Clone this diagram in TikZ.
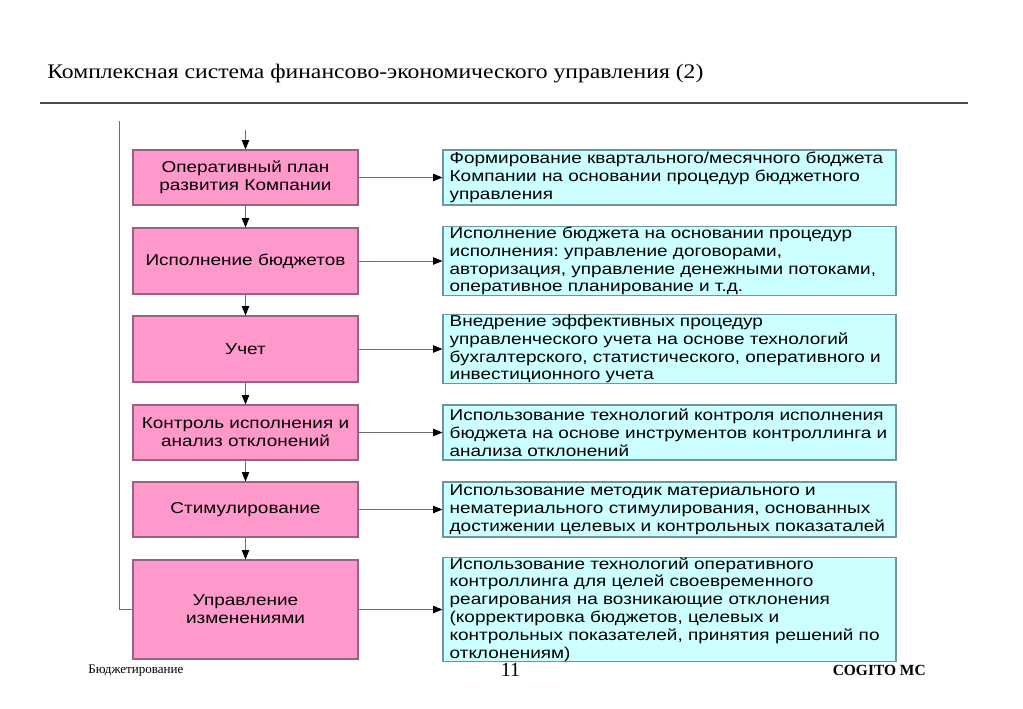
\documentclass[tikz,border=0pt]{standalone}
\usepackage{fontspec}
\usetikzlibrary{arrows.meta}
\frenchspacing
\newfontfamily\arfont{Liberation Sans}[FakeStretch=1.205]
\newfontfamily\titlefont{Liberation Serif}[FakeStretch=1.145]
\newfontfamily\tnrfont{Liberation Serif}
\definecolor{pinkfill}{RGB}{255,153,204}
\definecolor{pinkline}{RGB}{150,100,130}
\definecolor{cyanfill}{RGB}{204,255,255}
\definecolor{cyanline}{RGB}{110,150,160}
\definecolor{conn}{RGB}{110,110,110}
\tikzset{
  pinkbox/.style={draw=pinkline, fill=pinkfill, line width=0.8pt, minimum width=168.75pt,
    align=center, inner sep=2pt, font=\arfont\fontsize{11.8}{13.4}\selectfont, text=black},
  cyanbox/.style={draw=cyanline, fill=cyanfill, line width=0.8pt, minimum width=339.75pt,
    text width=329.75pt, inner xsep=5pt, inner ysep=0pt, align=left,
    font=\arfont\fontsize{11.8}{13.4}\selectfont, text=black},
  conline/.style={draw=conn, line width=0.7pt, -{Triangle[length=7pt,width=5.5pt,color=black]}},
  plainline/.style={draw=conn, line width=0.7pt}
}
\begin{document}
\frenchspacing
\begin{tikzpicture}[x=0.75pt,y=-0.75pt]
\useasboundingbox (0,0) rectangle (1023,708);
\fill[white] (0,0) rectangle (1023,708);
% title
\node[anchor=base west, inner sep=0pt, font=\titlefont\fontsize{15.5}{18}\selectfont] (title) at (47,78) {Комплексная система финансово-экономического управления (2)};
\draw[draw=black!70, line width=1.6pt] (40,103) coordinate (ruleL) -- (968,103) coordinate (ruleR);
% pink boxes
\node[pinkbox, minimum height=41.25pt] (p1) at (245.5,177.5) {Оперативный план\\развития Компании};
\node[pinkbox, minimum height=49.5pt] (p2) at (245.5,261) {Исполнение бюджетов};
\node[pinkbox, minimum height=49.5pt] (p3) at (245.5,349) {Учет};
\node[pinkbox, minimum height=41.25pt] (p4) at (245.5,432.5) {Контроль исполнения и\\анализ отклонений};
\node[pinkbox, minimum height=41.25pt] (p5) at (245.5,509.5) {Стимулирование};
\node[pinkbox, minimum height=74.25pt] (p6) at (245.5,609.5) {Управление\\изменениями};
% cyan boxes
\node[cyanbox, minimum height=41.25pt] (c1) at (669.5,177.5) {Формирование квартального/месячного бюджета\\Компании на основании процедур бюджетного\\управления};
\node[cyanbox, minimum height=49.5pt] (c2) at (669.5,261) {Исполнение бюджета на основании процедур\\исполнения: управление договорами,\\авторизация, управление денежными потоками,\\оперативное планирование и т.д.};
\node[cyanbox, minimum height=49.5pt] (c3) at (669.5,349) {Внедрение эффективных процедур\\управленческого учета на основе технологий\\бухгалтерского, статистического, оперативного и\\инвестиционного учета};
\node[cyanbox, minimum height=41.25pt] (c4) at (669.5,432.5) {Использование технологий контроля исполнения\\бюджета на основе инструментов контроллинга и\\анализа отклонений};
\node[cyanbox, minimum height=41.25pt] (c5) at (669.5,509.5) {Использование методик материального и\\нематериального стимулирования, основанных\\достижении целевых и контрольных показаталей};
\node[cyanbox, minimum height=74.25pt] (c6) at (669.5,609.5) {Использование технологий оперативного\\контроллинга для целей своевременного\\реагирования на возникающие отклонения\\(корректировка бюджетов, целевых и\\контрольных показателей, принятия решений по\\отклонениям)};
% connectors
\coordinate (topin) at (245.5,130);
\coordinate (fbtop) at (119,121);
\draw[conline] (topin) -- (p1.north);
\draw[conline] (p1) -- (p2);
\draw[conline] (p2) -- (p3);
\draw[conline] (p3) -- (p4);
\draw[conline] (p4) -- (p5);
\draw[conline] (p5) -- (p6);
\foreach \i in {1,...,6} {\draw[conline] (p\i) -- (c\i);}
\draw[plainline] (fbtop) |- (p6.west);
% footer
\node[anchor=base west, inner sep=0pt, font=\tnrfont\fontsize{9.8}{11}\selectfont] (fl) at (88,673) {Бюджетирование};
\node[anchor=base, inner sep=0pt, font=\tnrfont\fontsize{15}{16}\selectfont] (fn) at (510.5,676) {11};
\node[anchor=base east, inner sep=0pt, font=\tnrfont\bfseries\fontsize{11.6}{14}\selectfont] (fr) at (926,675) {COGITO MC};
\end{tikzpicture}
\end{document}
